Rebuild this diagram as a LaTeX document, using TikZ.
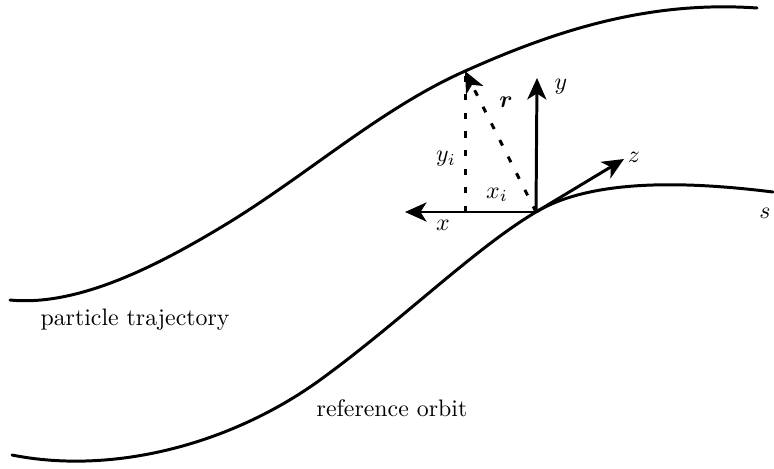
\documentclass[tikz,border=0pt]{standalone}
\usepackage{amsmath,amssymb}
\usepackage{tikz}
\usetikzlibrary{arrows.meta,positioning}
\tikzset{
  orbit/.style={line width=1.25pt,line cap=round},
  axis/.style={-{Stealth[length=9pt,width=8pt,inset=2.5pt]},line width=1.25pt},
  proj/.style={line width=1.25pt,dash pattern=on 2.6pt off 5.2pt},
  lab/.style={font=\normalsize,inner sep=1pt}
}

\begin{document}
\begin{tikzpicture}[x=0.01474cm,y=-0.01474cm]
  \useasboundingbox (0,0) rectangle (774,468);

  % particle trajectory
  \draw[orbit] (10,300) .. controls (80,307) and (163,263) .. (233,220)
    .. controls (313,170) and (383,108) .. (463,72)
    .. controls (553,31.5) and (647,0.3) .. (757,8);
  % reference orbit
  \draw[orbit] (12,455) .. controls (112,475) and (230,445) .. (320,380)
    .. controls (400,322) and (475,248) .. (536,212)
    .. controls (596,176) and (700,183) .. (773,192);

  \coordinate (O) at (536,212);
  \coordinate (xend) at (405,212);
  \coordinate (yend) at (537,78);
  \coordinate (zend) at (624,159);
  \coordinate (P) at (465,71);
  \coordinate (Pfoot) at (465,212);

  \draw[proj] (Pfoot) -- (P);
  \draw[proj,-{Stealth[length=9pt,width=8pt,inset=2.5pt]}] (O) -- (P);
  \draw[axis] (O) -- (xend);
  \draw[axis] (O) -- (yend);
  \draw[axis] (O) -- (zend);

  \node[lab] (xlab) at (443,225) {$x$};
  \node[lab] (ylab) at (561,87) {$y$};
  \node[lab] (zlab) at (634,157) {$z$};
  \node[lab] (rlab) at (506,102) {$\boldsymbol{r}$};
  \node[lab] (yilab) at (446,159) {$y_i$};
  \node[lab] (xilab) at (497,195) {$x_i$};
  \node[lab] (slab) at (765,213) {$s$};

  \node[lab] (ptraj) at (135,320) {particle trajectory};
  \node[lab] (refo) at (392,408) {reference orbit};
\end{tikzpicture}
\end{document}
